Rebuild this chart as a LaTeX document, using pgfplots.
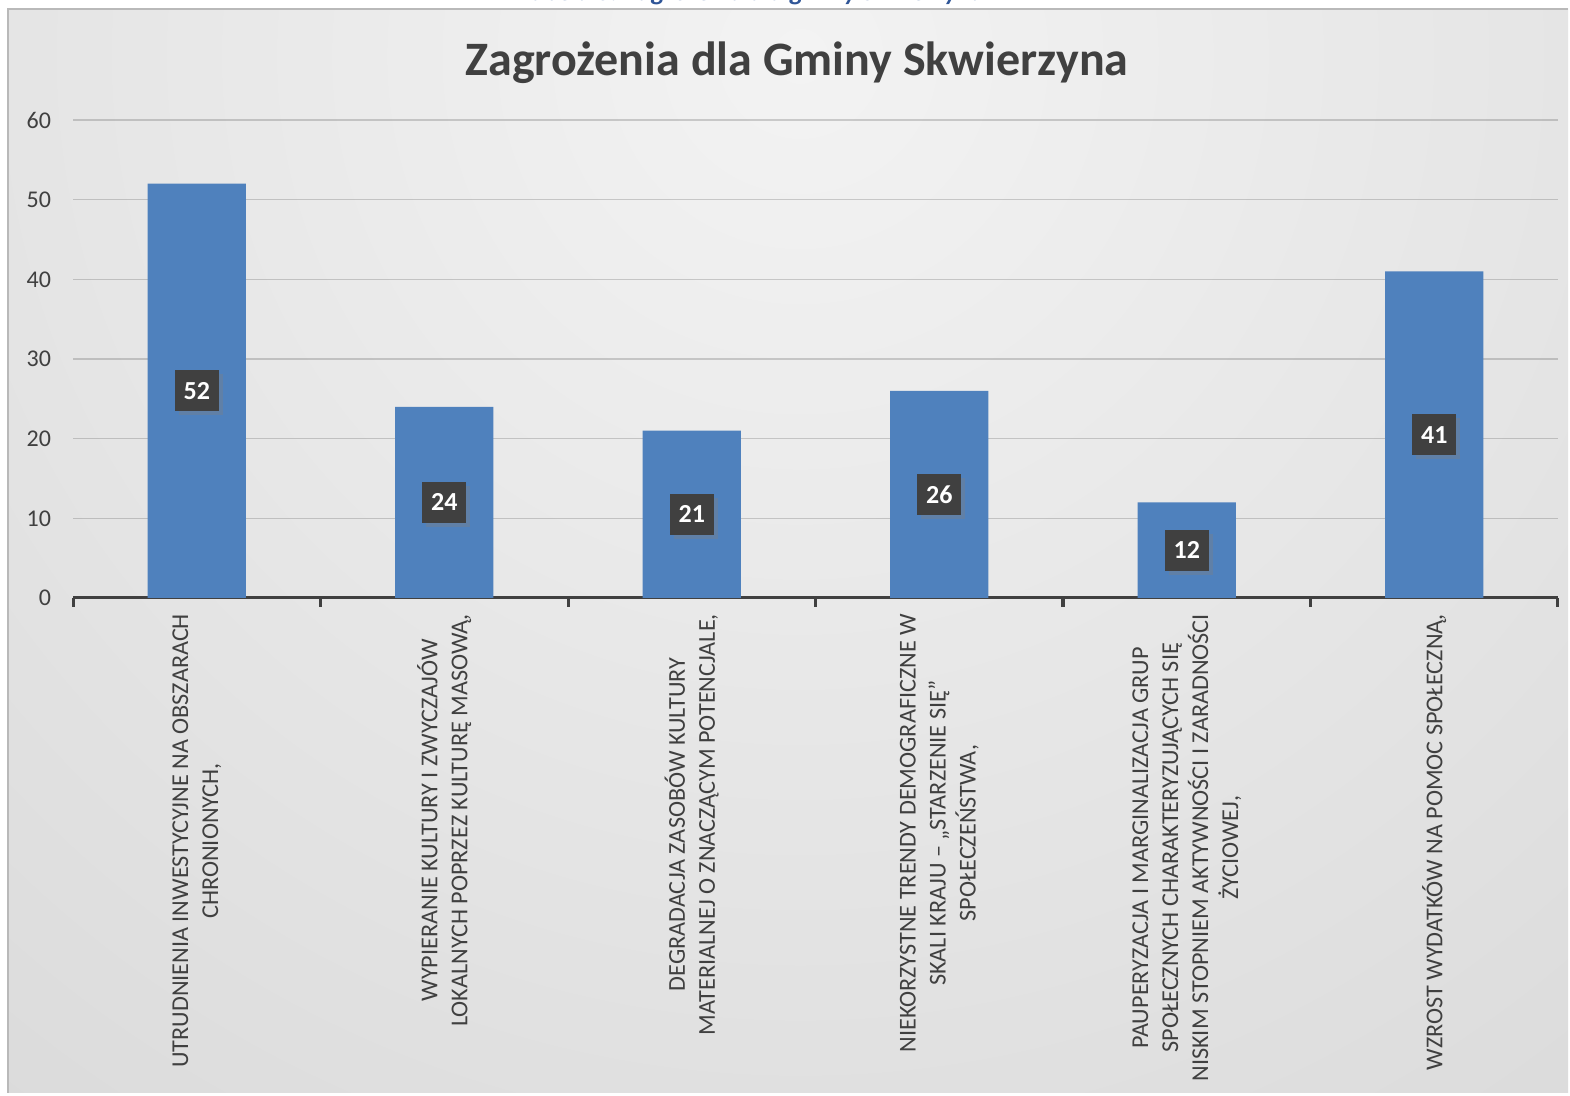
\documentclass[border=0pt]{standalone}
\usepackage{pgfplots}
\pgfplotsset{compat=1.18}
\usepackage{pgfplotstable}
\usepackage{fontspec}
\setmainfont{Carlito}
\usetikzlibrary{shadows}
\definecolor{barblue}{HTML}{4F81BD}
\definecolor{txtgray}{HTML}{404040}
\definecolor{capblue}{HTML}{2F5597}
\definecolor{bginner}{HTML}{F3F3F3}
\definecolor{bgouter}{HTML}{C2C2C2}
\pgfplotstableread{
x v
0 52
1 24
2 21
3 26
4 12
5 41
}\datatable
\begin{document}
\begin{tikzpicture}
% background
\fill[white] (0,0) rectangle (785pt,548pt);
\begin{scope}
\clip (4pt,1.5pt) rectangle (784pt,543.5pt);
\shade[inner color=bginner, outer color=bgouter] (400pt,520pt) circle (1350pt);
\end{scope}
\draw[gray!55, line width=0.8pt] (4pt,1.5pt) -- (4pt,543.5pt) -- (784pt,543.5pt);
% cut-off caption
\begin{scope}
\clip (0,0) rectangle (785pt,548pt);
\node[anchor=base west, inner sep=0pt, text=capblue, font=\fontsize{13}{15}\selectfont\bfseries\itshape] at (260pt,547.9pt) {Tabela 5. Zagrożenia dla gminy Skwierzyna};
\end{scope}
% title
\node[anchor=base, inner sep=0pt, text=txtgray, font=\fontsize{24}{28}\selectfont\bfseries] at (398.5pt,510pt) {Zagrożenia dla Gminy Skwierzyna};
\begin{axis}[
  at={(36.5pt,249pt)}, anchor=south west,
  scale only axis, width=742.5pt, height=239pt,
  xmin=-0.5, xmax=5.5, ymin=0, ymax=60,
  axis x line*=bottom, axis y line*=left,
  x axis line style={line width=1.5pt, color=txtgray},
  y axis line style={draw=none},
  ytick={0,10,...,60},
  ymajorgrids,
  major grid style={black, opacity=0.17, line width=0.8pt},
  major tick length=0pt,
  minor tick length=4.5pt,
  xtick align=outside,
  minor xtick={-0.5,0.5,...,5.5},
  minor tick style={line width=1.5pt, color=txtgray},
  xtick={0,...,5},
  xticklabels={
    {UTRUDNIENIA INWESTYCYJNE NA OBSZARACH\\CHRONIONYCH,},
    {WYPIERANIE KULTURY I ZWYCZAJÓW\\LOKALNYCH POPRZEZ KULTURĘ MASOWĄ,},
    {DEGRADACJA ZASOBÓW KULTURY\\MATERIALNEJ O ZNACZĄCYM POTENCJALE,},
    {NIEKORZYSTNE TRENDY DEMOGRAFICZNE W\\SKALI KRAJU – „STARZENIE SIĘ”\\SPOŁECZEŃSTWA,},
    {PAUPERYZACJA I MARGINALIZACJA GRUP\\SPOŁECZNYCH CHARAKTERYZUJĄCYCH SIĘ\\NISKIM STOPNIEM AKTYWNOŚCI I ZARADNOŚCI\\ŻYCIOWEJ,},
    {WZROST WYDATKÓW NA POMOC SPOŁECZNĄ,}
  },
  xticklabel style={rotate=90, anchor=east, align=center, text=txtgray,
    font=\fontsize{12.1}{15}\selectfont},
  xticklabel shift=4.5pt,
  yticklabel style={text=txtgray, font=\fontsize{12}{14}\selectfont},
  yticklabel shift=7.5pt,
  /pgf/number format/assume math mode=true,
  clip=false,
]
\addplot[ybar, bar width=49pt, fill=barblue, draw=none]
  table[x=x, y=v] {\datatable};
\addplot[draw=none, mark=none,
  nodes near coords={\pgfmathprintnumber{\pgfplotspointmeta}},
  point meta=explicit,
  every node near coord/.style={anchor=center, fill=txtgray, text=white,
    font=\fontsize{13}{15}\selectfont\bfseries, inner sep=0pt,
    minimum width=22pt, minimum height=20.5pt,
    drop shadow={shadow xshift=2pt, shadow yshift=-2pt, opacity=0.35}},
  /pgf/number format/assume math mode=true,
] table[x=x, y expr=\thisrow{v}/2, meta=v] {\datatable};
\end{axis}
\pgfresetboundingbox
\useasboundingbox (0,0) rectangle (785pt,548pt);
\end{tikzpicture}
\end{document}
